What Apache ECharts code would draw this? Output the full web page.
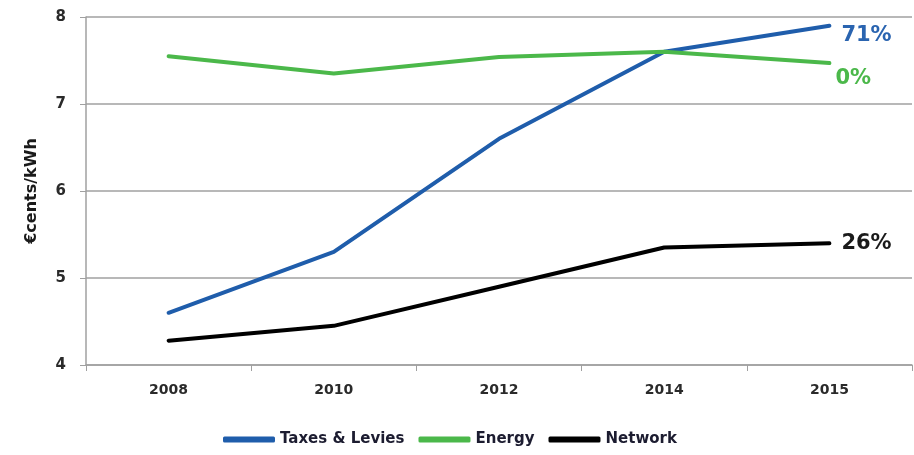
<!DOCTYPE html>
<html><head><meta charset="utf-8">
<script src="https://cdn.jsdelivr.net/npm/echarts@6/dist/echarts.min.js"></script>
<style>html,body{margin:0;padding:0;background:#fff}#c{width:914px;height:455px}</style>
</head><body><div id="c"></div>
<script>
const years = ['2008','2010','2012','2014','2015'];
const taxes = [4.6, 5.3, 6.6, 7.6, 7.9];
const energy = [7.55, 7.35, 7.54, 7.6, 7.47];
const network = [4.28, 4.45, 4.9, 5.35, 5.4];
const endLabels = ['71%', '0%', '26%'];

const chart = echarts.init(document.getElementById('c'));
const font = 'DejaVu Sans';
function mk(name, data, color, lblColor, lbl, off) {
  return {
    name, type: 'line', data, symbol: 'none', smooth: false,
    lineStyle: {width: 4, color, cap: 'round'}, itemStyle: {color},
    endLabel: {show: true, formatter: lbl, color: lblColor, fontFamily: font, fontSize: 21, fontWeight: 'bold', offset: off, distance: 12}
  };
}
chart.setOption({
  animation: false,
  grid: {left: 86, right: 2, top: 17, bottom: 90},
  legend: {
    bottom: 3, left: 218, itemWidth: 52, itemHeight: 6, itemGap: 14, icon: 'roundRect',
    textStyle: {fontFamily: font, fontSize: 15, fontWeight: 'bold', color: '#1c1c30'},
    data: ['Taxes & Levies', 'Energy', 'Network']
  },
  xAxis: {
    type: 'category', data: years, boundaryGap: true,
    axisLine: {lineStyle: {color: '#a0a0a0', width: 1.5}},
    axisTick: {show: true, length: 6, lineStyle: {color: '#a0a0a0'}},
    axisLabel: {fontFamily: font, fontWeight: 'bold', fontSize: 14, color: '#2a2a2a', margin: 18}
  },
  yAxis: {
    type: 'value', min: 4, max: 8, interval: 1,
    name: '€cents/kWh', nameLocation: 'middle', nameGap: 46, nameRotate: 90,
    nameTextStyle: {fontFamily: font, fontWeight: 'bold', fontSize: 16, color: '#1a1a1a'},
    axisLine: {show: true, lineStyle: {color: '#a0a0a0', width: 1.5}},
    axisTick: {show: true, length: 6, lineStyle: {color: '#a0a0a0'}},
    splitLine: {lineStyle: {color: '#a0a0a0', width: 1.5}},
    axisLabel: {fontFamily: font, fontWeight: 'bold', fontSize: 15, color: '#2a2a2a', margin: 20}
  },
  series: [
    mk('Taxes & Levies', taxes, '#1f5dab', '#2a64b0', endLabels[0], [0, 10]),
    mk('Energy', energy, '#4bb84a', '#4bb84a', endLabels[1], [-6, 15]),
    mk('Network', network, '#000000', '#1a1a1a', endLabels[2], [0, 0])
  ]
});
</script></body></html>
